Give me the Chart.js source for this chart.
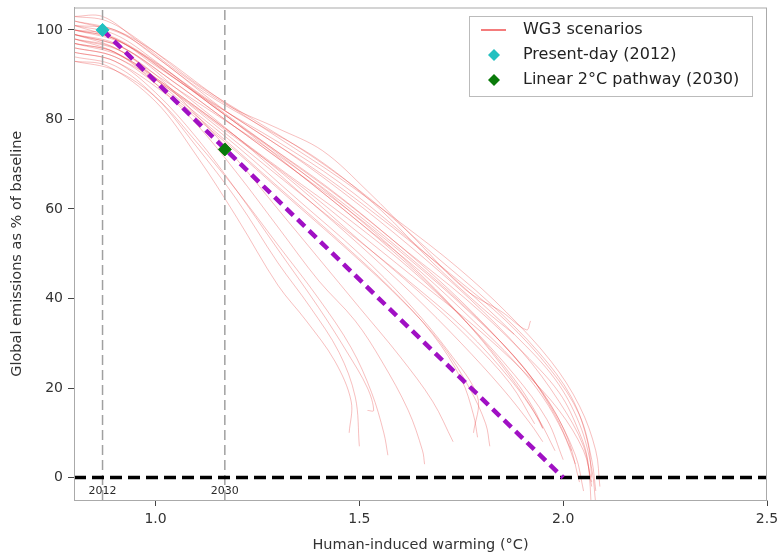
<!DOCTYPE html>
<html>
<head>
<meta charset="utf-8">
<script src="https://cdn.jsdelivr.net/npm/chart.js@4.4.1/dist/chart.umd.min.js"></script>
<style>
  html, body { margin: 0; padding: 0; background: #fff; }
</style>
</head>
<body>
<canvas id="warmingChart" width="777" height="555"></canvas>
<script>
// WG3 scenario curves, [warming degC, emissions % of baseline]
const upperBundle = [
    [[0.80,103],[0.87,103],[0.95,98],[1.05,91],[1.18,83],[1.30,78],[1.41,73],[1.52,64],[1.64,53],[1.76,42],[1.85,37],[1.91,33],[1.92,35]],
    [[0.80,101],[0.90,100],[1.00,94],[1.12,86],[1.25,79],[1.40,71],[1.55,60],[1.68,48],[1.80,38],[1.88,32]],
    [[0.80,100],[0.90,98],[1.00,92],[1.15,83],[1.30,75],[1.45,66],[1.60,55],[1.75,43],[1.88,32],[1.98,22],[2.04,12],[2.07,2],[2.08,-6]],
    [[0.80,102],[0.92,99],[1.03,92],[1.17,82],[1.32,73],[1.47,63],[1.62,52],[1.77,40],[1.90,28],[1.99,17],[2.05,7],[2.07,-2]],
    [[0.80,98],[0.90,96],[1.00,90],[1.15,81],[1.30,72],[1.45,62],[1.60,51],[1.75,39],[1.88,27],[1.97,16],[2.03,5],[2.05,-3]],
    [[0.80,99],[0.90,97],[1.02,90],[1.17,80],[1.32,70],[1.47,60],[1.62,49],[1.77,37],[1.90,25],[1.98,14],[2.02,6]],
    [[0.80,101],[0.90,99],[1.00,93],[1.14,83],[1.28,74],[1.42,65],[1.57,54],[1.72,42],[1.85,30],[1.95,19],[2.01,9],[2.04,-1]],
    [[0.80,97],[0.90,95],[1.02,88],[1.17,78],[1.32,68],[1.47,58],[1.62,47],[1.76,35],[1.88,23],[1.96,13],[2.00,4]],
    [[0.80,100],[0.88,99],[0.98,94],[1.12,85],[1.27,76],[1.42,67],[1.58,56],[1.73,45],[1.86,35],[1.97,24],[2.04,14],[2.07,4],[2.08,-3]],
    [[0.80,98],[0.90,95],[1.03,87],[1.17,77],[1.32,66],[1.47,55],[1.62,44],[1.76,33],[1.87,22],[1.94,13],[1.98,6]],
    [[0.80,102],[0.90,100],[1.00,95],[1.15,85],[1.30,76],[1.45,67],[1.60,57],[1.74,47],[1.86,37],[1.97,26],[2.04,16],[2.08,6],[2.09,-2]],
    [[0.80,99],[0.92,96],[1.05,88],[1.20,78],[1.35,68],[1.50,57],[1.65,46],[1.78,35],[1.88,26],[1.95,18],[2.00,10],[2.03,3]],
    [[0.80,100],[0.90,98],[1.02,91],[1.17,81],[1.32,71],[1.47,60],[1.62,48],[1.75,36],[1.85,25],[1.92,16],[1.95,11]],
    [[0.80,97],[0.92,94],[1.05,86],[1.20,76],[1.35,65],[1.50,53],[1.64,42],[1.77,31],[1.87,21],[1.93,12]],
    [[0.80,96],[0.90,94],[1.03,87],[1.18,77],[1.33,67],[1.48,56],[1.63,45],[1.78,34],[1.90,24],[1.99,15],[2.05,6],[2.07,-1]],
    [[0.80,101],[0.90,98],[1.01,92],[1.16,82],[1.31,72],[1.46,62],[1.61,51],[1.76,40],[1.89,29],[1.99,19],[2.04,10],[2.06,4],[2.07,-8]],
    [[0.80,103],[0.88,102],[0.97,97],[1.10,88],[1.24,80],[1.38,72],[1.53,62],[1.68,50],[1.82,39],[1.94,28],[2.02,18],[2.06,8],[2.07,0]]
];

const middleGroup = [
    [[0.80,95],[0.90,93],[1.02,86],[1.17,75],[1.32,63],[1.47,51],[1.60,40],[1.70,30],[1.77,20],[1.81,12],[1.82,7]],
    [[0.80,98],[0.92,95],[1.05,85],[1.20,74],[1.35,62],[1.50,50],[1.62,39],[1.72,28],[1.79,18],[1.78,10]],
    [[0.80,96],[0.90,94],[1.00,88],[1.15,77],[1.30,65],[1.45,53],[1.58,42],[1.68,32],[1.75,22],[1.78,14],[1.79,9]],
    [[0.80,99],[0.92,96],[1.05,87],[1.20,76],[1.35,64],[1.50,52],[1.63,41],[1.75,30],[1.85,20],[1.92,12],[1.95,8]],
    [[0.80,100],[0.92,97],[1.05,89],[1.20,79],[1.35,68],[1.50,57],[1.65,45],[1.78,33],[1.88,22],[1.93,15],[1.95,11]]
];

const leftGroup = [
    [[0.80,93],[0.88,92],[1.00,84],[1.10,72],[1.20,58],[1.30,43],[1.37,35],[1.44,26],[1.48,17],[1.475,10]],
    [[0.80,94],[0.90,92],[1.00,85],[1.10,74],[1.20,62],[1.30,48],[1.38,38],[1.45,28],[1.49,18],[1.50,7]],
    [[0.80,95],[0.90,93],[1.00,86],[1.10,76],[1.20,64],[1.30,51],[1.40,38],[1.47,28],[1.52,20],[1.535,15],[1.52,15]],
    [[0.80,97],[0.90,95],[1.00,88],[1.10,79],[1.20,68],[1.30,56],[1.40,44],[1.49,35],[1.555,26],[1.62,15],[1.655,6],[1.66,3]],
    [[0.80,99],[0.90,96],[1.00,90],[1.10,81],[1.20,71],[1.30,60],[1.40,49],[1.50,38],[1.60,27],[1.68,17],[1.73,8]],
    [[0.80,93],[0.90,91],[1.00,85],[1.10,75],[1.20,64],[1.30,52],[1.40,40],[1.48,29],[1.53,19],[1.56,10],[1.57,5]]
];

const yearLabels = ['2012', '2030'];
const yearWarming = [0.87, 1.17];
const presentDay = [{ x: 0.87, y: 100 }];
const pathway2030 = [{ x: 1.17, y: 73.3 }];
const linearPathway = [{ x: 0.87, y: 100 }, { x: 2.0, y: 0 }];

const xTicks = [1.0, 1.5, 2.0, 2.5];
const yTicks = [0, 20, 40, 60, 80, 100];
const xRange = [0.8, 2.5];
const yRange = [-5, 105];

const fontFamily = '"DejaVu Sans", sans-serif';
const datasets = [];

[...upperBundle, ...middleGroup, ...leftGroup].forEach(curve => {
    datasets.push({
        data: curve.map(p => ({ x: p[0], y: p[1] })),
        showLine: true,
        borderColor: 'rgba(232, 60, 60, 0.33)',
        borderWidth: 1,
        tension: 0.35,
        pointRadius: 0,
        order: 10
    });
});

yearWarming.forEach(w => {
    datasets.push({
        data: [{ x: w, y: yRange[0] }, { x: w, y: yRange[1] }],
        showLine: true,
        borderColor: '#a0a0a0',
        borderWidth: 1.5,
        borderDash: [10, 5],
        pointRadius: 0,
        order: 8
    });
});

datasets.push({
    data: [{ x: xRange[0], y: 0 }, { x: xRange[1], y: 0 }],
    showLine: true,
    borderColor: '#000',
    borderWidth: 3.5,
    borderDash: [12, 6],
    pointRadius: 0,
    order: 4
});

datasets.push({
    data: linearPathway,
    showLine: true,
    borderColor: '#a010c4',
    borderWidth: 4.5,
    borderDash: [10, 6],
    pointRadius: 0,
    order: 3
});

datasets.push({
    data: presentDay,
    pointStyle: 'rectRot',
    pointRadius: 6.5,
    backgroundColor: '#22c0c0',
    borderColor: '#22c0c0',
    order: 1
});

datasets.push({
    data: pathway2030,
    pointStyle: 'rectRot',
    pointRadius: 6.5,
    backgroundColor: '#0a7a0a',
    borderColor: '#0a7a0a',
    order: 1
});

const frameAndLegend = {
    id: 'frameAndLegend',
    afterDatasetsDraw(chart) {
        const ctx = chart.ctx;
        const area = chart.chartArea;
        const xs = chart.scales.x;
        const ys = chart.scales.y;
        ctx.save();

        // top and right spines
        ctx.strokeStyle = '#aaa';
        ctx.lineWidth = 1;
        ctx.strokeRect(area.left + 0.5, area.top + 0.5, area.right - area.left - 1, area.bottom - area.top);

        // year labels under the vertical lines
        ctx.fillStyle = '#2a2a2a';
        ctx.font = '11px ' + fontFamily;
        ctx.textAlign = 'center';
        ctx.textBaseline = 'middle';
        yearLabels.forEach((lab, i) => {
            ctx.fillText(lab, xs.getPixelForValue(yearWarming[i]), ys.getPixelForValue(-3.1));
        });

        // legend
        const lx = 469, ly = 16, lw = 283, lh = 80;
        ctx.fillStyle = '#fff';
        ctx.fillRect(lx, ly, lw, lh);
        ctx.strokeStyle = '#bbb';
        ctx.strokeRect(lx + 0.5, ly + 0.5, lw, lh);

        ctx.textAlign = 'left';
        ctx.font = '16px ' + fontFamily;
        ctx.fillStyle = '#222';
        const rows = [
            { text: 'WG3 scenarios', y: 30 },
            { text: 'Present-day (2012)', y: 55 },
            { text: 'Linear 2\u00B0C pathway (2030)', y: 80 }
        ];
        rows.forEach(r => ctx.fillText(r.text, 523, r.y));

        ctx.strokeStyle = '#f05050';
        ctx.lineWidth = 1.5;
        ctx.beginPath();
        ctx.moveTo(481, 30);
        ctx.lineTo(506, 30);
        ctx.stroke();

        const diamond = (cx, cy, r, col) => {
            ctx.fillStyle = col;
            ctx.beginPath();
            ctx.moveTo(cx, cy - r);
            ctx.lineTo(cx + r, cy);
            ctx.lineTo(cx, cy + r);
            ctx.lineTo(cx - r, cy);
            ctx.closePath();
            ctx.fill();
        };
        diamond(494, 55, 6, '#22c0c0');
        diamond(494, 80, 6, '#0a7a0a');
        ctx.restore();
    }
};

const ctx = document.getElementById('warmingChart').getContext('2d');
const chartInstance = new Chart(ctx, {
    type: 'scatter',
    data: { datasets: datasets },
    options: {
        responsive: false,
        animation: false,
        layout: { padding: { top: 7, right: 10, left: 0, bottom: 0 } },
        plugins: {
            legend: { display: false },
            tooltip: { enabled: false }
        },
        scales: {
            x: {
                type: 'linear',
                min: xRange[0],
                max: xRange[1],
                afterBuildTicks: s => { s.ticks = xTicks.map(v => ({ value: v })); },
                afterFit: s => {
                    s.height = 55;
                    s.paddingLeft = 0;
                    s.paddingRight = 0;
                },
                ticks: {
                    callback: v => v.toFixed(1),
                    font: { family: fontFamily, size: 14 },
                    color: '#333',
                    padding: 5,
                    maxRotation: 0
                },
                grid: { drawOnChartArea: false, tickLength: 6, color: '#444' },
                border: { color: '#aaa' },
                title: {
                    display: true,
                    text: 'Human-induced warming (\u00B0C)',
                    font: { family: fontFamily, size: 14.5 },
                    color: '#333',
                    padding: { top: 0, bottom: 1 }
                }
            },
            y: {
                type: 'linear',
                min: yRange[0],
                max: yRange[1],
                afterBuildTicks: s => { s.ticks = yTicks.map(v => ({ value: v })); },
                afterFit: s => {
                    s.width = 74;
                    s.paddingTop = 0;
                    s.paddingBottom = 0;
                },
                ticks: {
                    font: { family: fontFamily, size: 14 },
                    color: '#333',
                    padding: 5
                },
                grid: { drawOnChartArea: false, tickLength: 6, color: '#444' },
                border: { color: '#aaa' },
                title: {
                    display: true,
                    text: 'Global emissions as % of baseline',
                    font: { family: fontFamily, size: 14.5 },
                    color: '#333',
                    padding: { top: 9, bottom: 0 }
                }
            }
        }
    },
    plugins: [frameAndLegend]
});
</script>
</body>
</html>
